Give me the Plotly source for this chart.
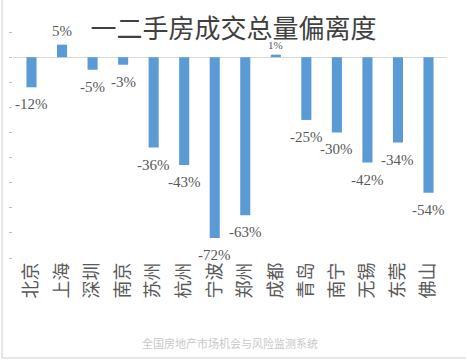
import plotly.graph_objects as go

cities = ["北京", "上海", "深圳", "南京", "苏州", "杭州", "宁波", "郑州", "成都", "青岛", "南宁", "无锡", "东莞", "佛山"]
values = [-12, 5, -5, -3, -36, -43, -72, -63, 1, -25, -30, -42, -34, -54]
labels = [f"{v}%" for v in values]
title_text = "一二手房成交总量偏离度"
watermark = "全国房地产市场机会与风险监测系统"

fig = go.Figure()
fig.add_trace(go.Bar(
    x=cities, y=values,
    marker=dict(color="#5B9BD5", line=dict(width=0)),
    width=0.33,
    hoverinfo="skip",
))

for c, v, t in zip(cities, values, labels):
    small = abs(v) < 2
    fig.add_annotation(
        x=c, y=v, text=t, showarrow=False,
        yshift=(10 if small else 14) if v >= 0 else -17,
        font=dict(family="Liberation Serif, serif", size=11 if small else 15, color="#595959"),
    )

plot_h = 360 - 12 - 102
fig.add_annotation(
    x=0.5, y=-(343 - 258) / plot_h, xref="paper", yref="paper", text=watermark, showarrow=False,
    yanchor="middle",
    font=dict(family="Noto Sans CJK SC", size=11, color="#c8c8c8"),
)

fig.update_layout(
    width=467, height=360,
    margin=dict(l=13, r=20, t=12, b=102, autoexpand=False),
    paper_bgcolor="white", plot_bgcolor="white",
    showlegend=False,
    title=dict(
        text=title_text, x=0.5, xanchor="center",
        y=1 - 29 / 360, yanchor="middle", yref="container",
        font=dict(family="Noto Sans CJK SC", size=26, color="#404040"),
        automargin=False,
    ),
    xaxis=dict(
        showline=False, showgrid=False, zeroline=False, automargin=False,
        tickangle=-90, ticks="",
        tickfont=dict(family="Noto Sans CJK SC", size=18, color="#595959"),
    ),
    yaxis=dict(
        range=[-80, 18], dtick=10, tick0=0, automargin=False,
        showgrid=False, showline=False,
        zeroline=True, zerolinecolor="#d9d9d9", zerolinewidth=1,
        ticks="outside", ticklen=3, tickcolor="#bfbfbf",
        showticklabels=False,
    ),
)
# image frame (light border on left and bottom)
plot_w = 467 - 13 - 20
fig.add_shape(type="line", xref="paper", yref="paper",
              x0=-11 / plot_w, x1=-11 / plot_w, y0=-100 / plot_h, y1=1 + 12 / plot_h,
              line=dict(color="#d0d0d0", width=1))
fig.add_shape(type="line", xref="paper", yref="paper",
              x0=-11 / plot_w, x1=1 + 19 / plot_w, y0=-100 / plot_h, y1=-100 / plot_h,
              line=dict(color="#d0d0d0", width=1))

fig.write_html(
    "out.html",
    config={"displayModeBar": False, "staticPlot": True},
    post_script="document.body.style.margin='0';document.body.style.overflow='hidden';",
)
